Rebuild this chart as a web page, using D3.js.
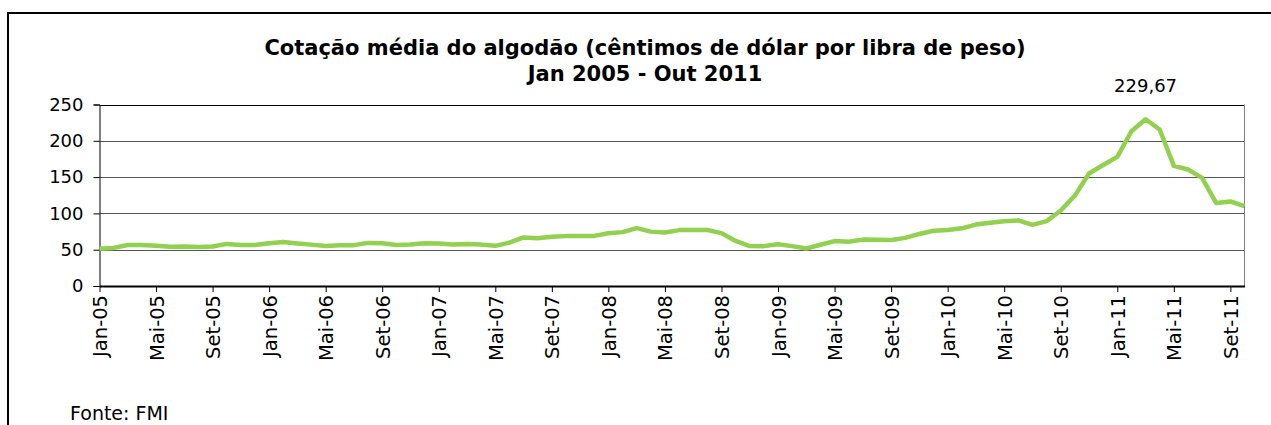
<!DOCTYPE html>
<html>
<head>
<meta charset="utf-8">
<script src="https://cdn.jsdelivr.net/npm/d3@7"></script>
<style>
  html, body { margin: 0; padding: 0; background: #fff; }
  svg { display: block; font-family: "DejaVu Sans", Verdana, sans-serif; }
</style>
</head>
<body>
<svg id="chart" width="1271" height="425"></svg>
<script>
// month abbreviations (pt)
var monthNames = ["Jan", "Fev", "Mar", "Abr", "Mai", "Jun", "Jul", "Ago", "Set", "Out", "Nov", "Dez"];
var years = ["05", "06", "07", "08", "09", "10", "11"];

// cotton price, US cents per pound, Jan 2005 - Oct 2011
var prices2005 = [51.3, 52.5, 56.5, 56.6, 55.3, 54.0, 54.4, 53.6, 54.3, 58.0, 56.6, 56.5];
var prices2006 = [59.0, 60.5, 58.6, 57.0, 55.2, 56.1, 56.3, 59.4, 58.9, 56.5, 57.3, 59.0];
var prices2007 = [58.4, 57.3, 57.8, 57.0, 55.3, 59.8, 66.9, 65.7, 67.8, 68.7, 68.9, 69.0];
var prices2008 = [72.6, 74.2, 79.8, 74.9, 73.8, 77.0, 77.0, 77.2, 72.8, 62.0, 55.0, 54.9];
var prices2009 = [57.5, 54.9, 51.7, 56.8, 61.9, 61.0, 63.9, 63.6, 63.3, 66.3, 71.7, 76.1];
var prices2010 = [77.0, 79.4, 84.6, 87.0, 89.1, 90.4, 84.2, 89.4, 103.9, 124.5, 155.0, 166.7];
var prices2011 = [177.9, 213.2, 229.67, 215.5, 165.4, 160.4, 149.0, 114.2, 116.4, 110.0];

var yTicks = [0, 50, 100, 150, 200, 250];
var peakLabel = "229,67";

var values = [].concat(prices2005, prices2006, prices2007, prices2008, prices2009, prices2010, prices2011);
var categories = values.map(function (v, i) {
    return monthNames[i % 12] + "-" + years[Math.floor(i / 12)];
});

var svg = d3.select("#chart");
var margin = {left: 99.5, right: 1244.5, top: 104.5, bottom: 286};

// outer frame
svg.append("rect")
    .attr("x", 8).attr("y", 13)
    .attr("width", 1280).attr("height", 440)
    .attr("fill", "none")
    .attr("stroke", "#000")
    .attr("stroke-width", 2);

var x = d3.scalePoint()
    .domain(categories)
    .range([margin.left, margin.right]);
var y = d3.scaleLinear()
    .domain([0, 250])
    .range([margin.bottom, margin.top]);

// gridlines
svg.append("g").selectAll("line")
    .data(yTicks.filter(function (d) { return d > 0; }))
    .enter().append("line")
    .attr("x1", margin.left)
    .attr("x2", margin.right)
    .attr("y1", function (d) { return Math.round(y(d)) + 0.5; })
    .attr("y2", function (d) { return Math.round(y(d)) + 0.5; })
    .attr("stroke", function (d) { return d === 250 ? "#000" : "#555"; })
    .attr("stroke-width", 1);

// right border of plot area
svg.append("line")
    .attr("x1", margin.right).attr("x2", margin.right)
    .attr("y1", margin.top).attr("y2", margin.bottom)
    .attr("stroke", "#808080");

// y axis
var yAxis = svg.append("g")
    .attr("transform", "translate(" + margin.left + ",0)")
    .call(d3.axisLeft(y).tickValues(yTicks).tickSize(6).tickPadding(10));
yAxis.select(".domain").attr("stroke", "#000");
yAxis.selectAll(".tick line").attr("stroke", "#000");
yAxis.selectAll(".tick text")
    .attr("fill", "#000")
    .style("font-size", "18px")
    .style("font-family", "DejaVu Sans, Verdana, sans-serif");

// x axis
var xTickValues = categories.filter(function (d, i) { return i % 4 === 0; });
var xAxis = svg.append("g")
    .attr("transform", "translate(0," + margin.bottom + ")")
    .call(d3.axisBottom(x).tickValues(xTickValues).tickSize(6).tickSizeOuter(0));
xAxis.select(".domain").attr("stroke", "#000").attr("stroke-width", 2);
xAxis.selectAll(".tick line").attr("stroke", "#000");
xAxis.selectAll(".tick text")
    .attr("fill", "#000")
    .style("font-size", "19.5px")
    .style("font-family", "DejaVu Sans, Verdana, sans-serif")
    .attr("transform", "rotate(-90)")
    .attr("text-anchor", "end")
    .attr("x", -9)
    .attr("y", 0)
    .attr("dy", "0.36em");

// price line
var line = d3.line()
    .x(function (d, i) { return x(categories[i]); })
    .y(function (d) { return y(d); });
svg.append("path")
    .datum(values)
    .attr("d", line)
    .attr("fill", "none")
    .attr("stroke", "#92D050")
    .attr("stroke-width", 4.5)
    .attr("stroke-linejoin", "round");

// peak label
var peakIndex = values.indexOf(d3.max(values));
svg.append("text")
    .attr("x", x(categories[peakIndex]))
    .attr("y", 92)
    .attr("text-anchor", "middle")
    .style("font-size", "18px")
    .text(peakLabel);

// title
var title = svg.append("text")
    .attr("text-anchor", "middle")
    .style("font-size", "21px")
    .style("font-weight", "bold");
title.append("tspan").attr("x", 645).attr("y", 55)
    .text("Cotação média do algodão (cêntimos de dólar por libra de peso)");
title.append("tspan").attr("x", 645).attr("y", 81)
    .text("Jan 2005 - Out 2011");

// source
svg.append("text")
    .attr("x", 70).attr("y", 420)
    .style("font-size", "19px")
    .text("Fonte: FMI");
</script>
</body>
</html>
